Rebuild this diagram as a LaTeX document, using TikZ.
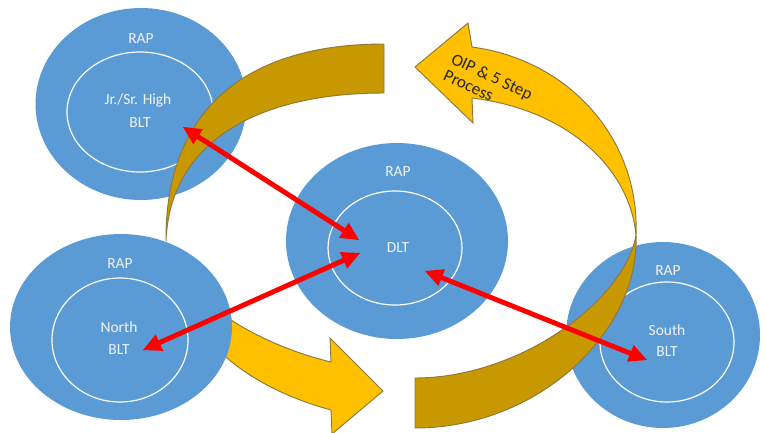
\documentclass[tikz,border=0pt]{standalone}
\usepackage{fontspec}
\setmainfont{Carlito}
\usetikzlibrary{calc}
\definecolor{ringblue}{RGB}{91,155,213}
\definecolor{goldlight}{RGB}{255,192,0}
\definecolor{golddark}{RGB}{200,152,0}
\definecolor{goldline}{RGB}{140,120,60}
\definecolor{labelwhite}{RGB}{242,242,242}

\begin{document}
\begin{tikzpicture}[scale=0.15]
        \tikzstyle{every node}+=[inner sep=0pt]
        \tikzstyle{lbl}=[text=labelwhite, font=\fontsize{6.6}{8}\selectfont, text height=4.25pt, text depth=0pt]
        \tikzstyle{looptext}=[text=black!85, font=\fontsize{7.3}{8.5}\selectfont, text height=4.7pt, text depth=0pt, rotate=-25, anchor=west]
        \useasboundingbox (0,0) rectangle (76.6,-43.2);
        \clip (0,0) rectangle (76.6,-43.2);
        % front of the left loop, it runs behind North
        \draw [goldline, fill=goldlight, line width=0.4pt] (16.6,-24.2) .. controls (18.0,-30.0) and (26.0,-34.5) .. (33.1,-36.2) -- (33.0,-33.8) -- (38.3,-39.1) -- (33.2,-43.4) -- (33.1,-41.0) .. controls (24.0,-38.5) and (17.5,-33.0) .. (16.6,-24.2) -- cycle;
        % the four teams
        \fill [ringblue] (14.1,-10.4) ellipse (10.55 and 9.6);
        \draw [white, line width=0.5pt] (14.0,-11.2) ellipse (7.3 and 6.0);
        \fill [ringblue] (39.7,-24.1) ellipse (11.1 and 9.8);
        \draw [white, line width=0.5pt] (39.5,-24.8) ellipse (6.7 and 5.7);
        \fill [ringblue] (12.1,-32.7) ellipse (11.1 and 9.3);
        \draw [white, line width=0.5pt] (12.0,-34.0) ellipse (6.8 and 6.2);
        \fill [ringblue] (66.3,-33.5) ellipse (9.7 and 9.3);
        \draw [white, line width=0.5pt] (66.7,-34.2) ellipse (6.7 and 6.0);
        % back halves of both loops
        \draw [goldline, fill=golddark, line width=0.4pt] (38.4,-4.4) .. controls (24.0,-4.4) and (16.5,-11.5) .. (16.6,-24.1) .. controls (17.0,-14.0) and (26.0,-9.3) .. (38.4,-9.3) -- cycle;
        \draw [goldline, fill=golddark, line width=0.4pt] (41.5,-37.8) .. controls (52.0,-37.8) and (62.5,-30.0) .. (63.6,-23.5) .. controls (64.0,-33.0) and (54.0,-42.8) .. (41.5,-42.8) -- cycle;
        % front of the right loop
        \draw [goldline, fill=goldlight, line width=0.4pt] (63.6,-23.5) .. controls (64.0,-14.0) and (57.0,-6.0) .. (47.2,-4.7) -- (46.8,-2.3) -- (41.5,-6.7) -- (47.3,-12.3) -- (47.2,-9.8) .. controls (57.0,-11.0) and (63.0,-17.0) .. (63.6,-23.5) -- cycle;
        \draw (45.2,-5.8) node (oipline) [looptext] {OIP \& 5 Step};
        \draw (44.44,-7.43) node (processline) [looptext] {Process};
        % labels
        \draw (14.1,-3.9) node (jrrap) [lbl] {RAP};
        \draw (13.8,-10.0) node (jrname) [lbl] {Jr./Sr. High};
        \draw (14.0,-12.3) node (jrblt) [lbl] {BLT};
        \draw (39.8,-17.2) node (dltrap) [lbl] {RAP};
        \draw (39.8,-24.8) node (dlt) [lbl] {DLT};
        \draw (12.0,-26.4) node (northrap) [lbl] {RAP};
        \draw (11.9,-32.8) node (northname) [lbl] {North};
        \draw (11.9,-35.0) node (northblt) [lbl] {BLT};
        \draw (66.8,-27.1) node (southrap) [lbl] {RAP};
        \draw (66.7,-33.1) node (southname) [lbl] {South};
        \draw (66.7,-35.2) node (southblt) [lbl] {BLT};
        % red links
        \coordinate (jrend) at (18.3,-12.7);
        \coordinate (dltjr) at (35.9,-24.0);
        \coordinate (northend) at (14.3,-35.0);
        \coordinate (dltnorth) at (36.0,-25.3);
        \coordinate (dltsouth) at (42.5,-27.1);
        \coordinate (southend) at (64.7,-36.0);
        \draw [red, line width=2.1pt] ($(jrend)!1.4cm!(dltjr)$) -- ($(dltjr)!1.4cm!(jrend)$);
        \fill [red] (jrend) -- ($(jrend)!1.8cm!(dltjr)!0.9cm!90:(dltjr)$) -- ($(jrend)!1.8cm!(dltjr)!0.9cm!-90:(dltjr)$) -- cycle;
        \fill [red] (dltjr) -- ($(dltjr)!1.8cm!(jrend)!0.9cm!90:(jrend)$) -- ($(dltjr)!1.8cm!(jrend)!0.9cm!-90:(jrend)$) -- cycle;
        \draw [red, line width=2.1pt] ($(northend)!1.4cm!(dltnorth)$) -- ($(dltnorth)!1.4cm!(northend)$);
        \fill [red] (northend) -- ($(northend)!1.8cm!(dltnorth)!0.9cm!90:(dltnorth)$) -- ($(northend)!1.8cm!(dltnorth)!0.9cm!-90:(dltnorth)$) -- cycle;
        \fill [red] (dltnorth) -- ($(dltnorth)!1.8cm!(northend)!0.9cm!90:(northend)$) -- ($(dltnorth)!1.8cm!(northend)!0.9cm!-90:(northend)$) -- cycle;
        \draw [red, line width=2.1pt] ($(dltsouth)!1.4cm!(southend)$) -- ($(southend)!1.4cm!(dltsouth)$);
        \fill [red] (dltsouth) -- ($(dltsouth)!1.8cm!(southend)!0.9cm!90:(southend)$) -- ($(dltsouth)!1.8cm!(southend)!0.9cm!-90:(southend)$) -- cycle;
        \fill [red] (southend) -- ($(southend)!1.8cm!(dltsouth)!0.9cm!90:(dltsouth)$) -- ($(southend)!1.8cm!(dltsouth)!0.9cm!-90:(dltsouth)$) -- cycle;
        \end{tikzpicture}
\end{document}
